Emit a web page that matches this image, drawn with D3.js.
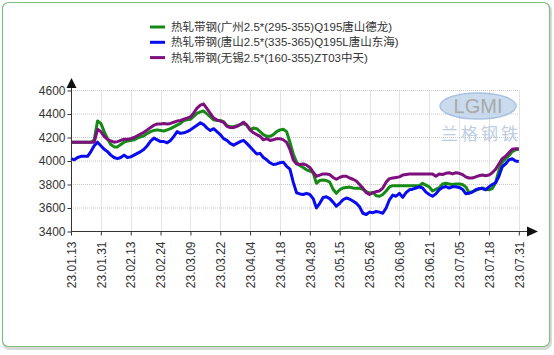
<!DOCTYPE html>
<html>
<head>
<meta charset="utf-8">
<script src="https://d3js.org/d3.v7.min.js"></script>
<style>
  body { margin: 0; background: #fff; }
  svg { display: block; }
</style>
</head>
<body>
<script>
// tick labels, one every 9 trading days
const dateTicks = ["23.01.13","23.01.31","23.02.13","23.02.24","23.03.09","23.03.22","23.04.04","23.04.18",
  "23.04.28","23.05.15","23.05.26","23.06.08","23.06.21","23.07.05","23.07.18","23.07.31"];
const yTicks = [3400, 3600, 3800, 4000, 4200, 4400, 4600];
const seriesNames = ["热轧带钢(广州2.5*(295-355)Q195唐山德龙)",
  "热轧带钢(唐山2.5*(335-365)Q195L唐山东海)",
  "热轧带钢(无锡2.5*(160-355)ZT03中天)"];

const guangzhou = [4160,4160,4160,4160,4160,4160,4160,4180,4340,4320,4250,4190,4140,4120,4120,4140,4160,4170,4175,4180,
  4195,4205,4215,4235,4250,4260,4265,4260,4255,4265,4275,4290,4305,4320,4345,4350,4355,4380,4405,4418,
  4425,4400,4375,4350,4345,4345,4335,4300,4292,4292,4300,4310,4318,4305,4265,4280,4275,4250,4225,4210,
  4210,4225,4250,4265,4270,4250,4160,4060,3990,3960,3945,3925,3915,3900,3810,3835,3838,3834,3820,3760,
  3725,3755,3770,3775,3778,3770,3768,3768,3760,3740,3727,3732,3705,3700,3715,3745,3780,3790,3790,3790,
  3790,3790,3790,3790,3790,3790,3810,3795,3780,3745,3760,3770,3805,3810,3805,3800,3805,3805,3800,3780,
  3730,3740,3750,3760,3770,3760,3755,3765,3815,3920,3990,4020,4045,4080,4095,4100];
const tangshan = [4020,4010,4030,4040,4040,4040,4080,4130,4160,4130,4100,4080,4050,4030,4020,4030,4050,4030,4035,4050,
  4065,4080,4100,4130,4170,4195,4180,4165,4165,4155,4175,4210,4250,4235,4240,4250,4265,4285,4305,4325,
  4310,4280,4260,4275,4250,4225,4190,4175,4150,4135,4150,4165,4175,4150,4120,4090,4060,4065,4030,4010,
  3985,3970,3975,3985,3990,3955,3930,3820,3730,3720,3715,3725,3715,3680,3600,3640,3690,3695,3680,3650,
  3615,3640,3670,3685,3675,3660,3640,3610,3555,3545,3565,3560,3570,3565,3555,3600,3670,3710,3700,3725,
  3690,3730,3755,3760,3770,3780,3770,3735,3715,3700,3720,3755,3775,3783,3770,3780,3780,3775,3760,3722,
  3725,3735,3755,3765,3765,3755,3780,3800,3815,3870,3950,3975,4010,4020,4000,3995];
const wuxi = [4160,4160,4160,4160,4160,4160,4160,4160,4270,4250,4210,4185,4170,4160,4165,4175,4185,4185,4190,4200,
  4215,4230,4245,4265,4285,4305,4315,4315,4320,4315,4320,4330,4340,4345,4355,4365,4375,4410,4450,4475,
  4485,4445,4405,4365,4350,4340,4330,4295,4285,4285,4295,4310,4330,4305,4265,4240,4225,4210,4180,4190,
  4175,4180,4190,4190,4180,4160,4100,4010,3975,3970,3975,3965,3945,3905,3870,3880,3890,3890,3885,3860,
  3845,3860,3870,3870,3855,3845,3830,3800,3770,3730,3715,3730,3740,3745,3770,3820,3850,3855,3860,3865,
  3880,3885,3890,3890,3890,3890,3890,3890,3890,3890,3870,3890,3885,3895,3900,3890,3900,3895,3885,3865,
  3855,3855,3865,3875,3880,3875,3880,3900,3930,3975,4020,4040,4070,4100,4105,4105];

const colors = ["#158a15", "#0a0af0", "#7d107d"];
const allSeries = [guangzhou, tangshan, wuxi];

const W = 554, H = 355;
const svg = d3.select("body").append("svg").attr("width", W).attr("height", H);

// panel border
svg.append("rect").attr("x", 3.5).attr("y", 4.5).attr("width", 547).attr("height", 344)
  .attr("rx", 6).attr("fill", "none").attr("stroke", "#b4b4b4").attr("stroke-width", 3).attr("opacity", 0.5);
svg.append("rect").attr("x", 2.5).attr("y", 2.5).attr("width", 547).attr("height", 344)
  .attr("rx", 6).attr("fill", "#fff").attr("stroke", "#7fbf7f").attr("stroke-width", 1.2);

const x = d3.scaleLinear().domain([0, guangzhou.length - 1]).range([71, 518.8]);
const y = d3.scaleLinear().domain([3400, 4600]).range([231.5, 90.5]);

// grid
const grid = svg.append("g").attr("stroke", "#c8c8c8").attr("stroke-dasharray", "1,1");
grid.selectAll("line.h").data(yTicks.slice(1)).join("line")
  .attr("x1", 71).attr("x2", 519).attr("y1", d => y(d)).attr("y2", d => y(d));
grid.selectAll("line.v").data(dateTicks.slice(1)).join("line")
  .attr("x1", (d, i) => Math.round(x((i + 1) * 9)) + 0.5).attr("x2", (d, i) => Math.round(x((i + 1) * 9)) + 0.5)
  .attr("y1", 90.5).attr("y2", 231.5);

// watermark logo
const logo = svg.append("g").attr("opacity", 0.75);
logo.append("ellipse").attr("cx", 478).attr("cy", 106).attr("rx", 38).attr("ry", 13)
  .attr("fill", "#b9cfe9").attr("stroke", "#8eaed6").attr("stroke-width", 1.5);
logo.append("text").attr("x", 478).attr("y", 113).attr("text-anchor", "middle")
  .attr("font-family", "Liberation Sans, Arial").attr("font-size", 20).attr("fill", "#8c8c8c")
  .text("LGMI");
logo.append("text").attr("x", 481).attr("y", 140).attr("text-anchor", "middle")
  .attr("font-family", "Noto Sans CJK SC").attr("font-size", 17).attr("fill", "#a8bddb")
  .attr("letter-spacing", 3).text("兰格钢铁");

// lines
const line = d3.line().x((d, i) => x(i)).y(d => y(d));
allSeries.forEach((s, k) => {
  svg.append("path").datum(s).attr("d", line).attr("fill", "none")
    .attr("stroke", colors[k]).attr("stroke-width", 3).attr("stroke-linejoin", "round");
});

// axes
const yAxis = svg.append("g").attr("transform", "translate(71.5,0)")
  .call(d3.axisLeft(y).tickValues(yTicks).tickSize(4).tickPadding(2).tickFormat(d3.format("d")));
const xAxis = svg.append("g").attr("transform", "translate(0,231.5)")
  .call(d3.axisBottom(x).tickValues(dateTicks.map((d, i) => i * 9)).tickSize(4)
    .tickFormat((d, i) => dateTicks[i]));
[yAxis, xAxis].forEach(a => {
  a.select(".domain").remove();
  a.selectAll("line").attr("stroke", "#333");
  a.selectAll("text").attr("font-family", "Liberation Sans, Arial").attr("font-size", 12).attr("fill", "#333");
});
xAxis.selectAll("text").attr("transform", "rotate(-90)").attr("text-anchor", "end")
  .attr("x", -10).attr("y", 0).attr("dy", "0.35em");

svg.append("line").attr("x1", 71.5).attr("x2", 71.5).attr("y1", 232).attr("y2", 84).attr("stroke", "#333");
svg.append("line").attr("x1", 71).attr("x2", 530).attr("y1", 231.5).attr("y2", 231.5).attr("stroke", "#333");
svg.append("path").attr("d", "M71.5,78 L66.5,88 L76.5,88 Z").attr("fill", "#111");
svg.append("path").attr("d", "M538,231.5 L527,226.5 L527,236.5 Z").attr("fill", "#111");

// legend
const legend = svg.append("g");
seriesNames.forEach((n, k) => {
  const ly = 27 + k * 15.3;
  legend.append("line").attr("x1", 150).attr("x2", 165).attr("y1", ly).attr("y2", ly)
    .attr("stroke", colors[k]).attr("stroke-width", 3);
  legend.append("text").attr("x", 171).attr("y", ly).attr("dy", "0.36em")
    .attr("font-family", "Liberation Sans, Noto Sans CJK SC").attr("font-size", 11.5)
    .attr("fill", "#333").text(n);
});
</script>
</body>
</html>
